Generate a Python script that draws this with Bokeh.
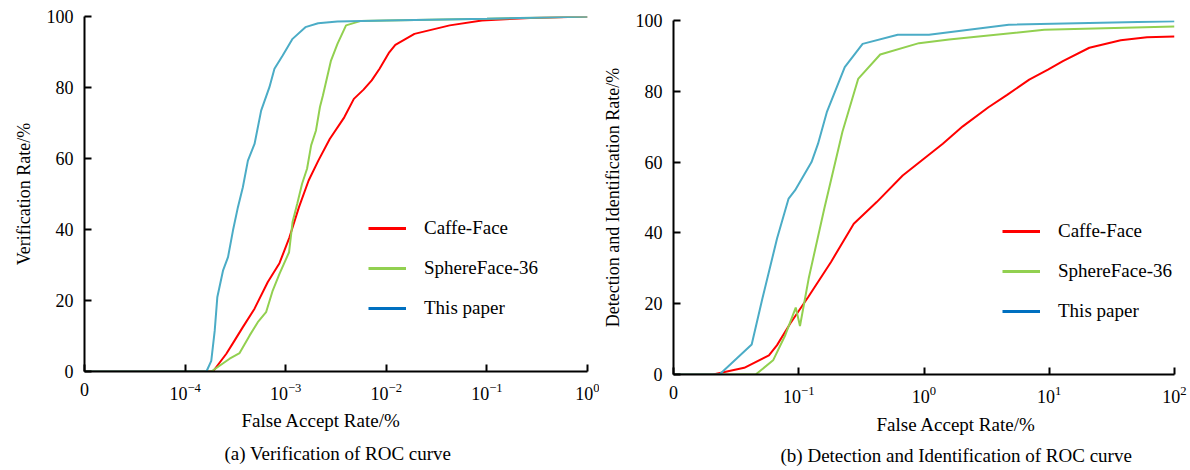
from bokeh.plotting import figure
from bokeh.layouts import row, column
from bokeh.models import Range1d, FixedTicker, Legend, LegendItem, Title
from bokeh.embed import file_html
from bokeh.resources import INLINE

FONT = "Liberation Serif"
RED = "#ff0000"
GREEN = "#92d050"
BLUE = "#4bacc6"
LEGEND_BLUE = "#0070c0"

series_names = ["Caffe-Face", "SphereFace-36", "This paper"]

# ---------- panel (a) Verification ----------
a_ticks = [1e-5, 1e-4, 1e-3, 1e-2, 1e-1, 1.0]
a_caffe_x = [1e-5, 1.89e-4, 2.57e-4, 3.10e-4, 3.75e-4, 4.90e-4, 6.64e-4, 8.67e-4, 1.09e-3,
             1.355e-3, 1.69e-3, 2.11e-3, 2.74e-3, 3.82e-3, 4.76e-3, 5.94e-3, 7.16e-3, 8.57e-3,
             1.07e-2, 1.23e-2, 1.905e-2, 4.27e-2, 8.91e-2, 0.269, 1.0]
a_caffe_y = [0, 0, 5.0, 8.7, 12.5, 17.7, 25.2, 30.5, 37.8, 46.3, 53.8, 59.4, 65.5, 71.6, 76.8,
             79.4, 82.0, 85.3, 89.9, 92.0, 95.1, 97.5, 98.9, 99.6, 100]
a_sphere_x = [1e-5, 1.82e-4, 2.77e-4, 3.48e-4, 4.37e-4, 5.28e-4, 6.38e-4, 7.43e-4, 8.67e-4,
              1.08e-3, 1.17e-3, 1.30e-3, 1.455e-3, 1.63e-3, 1.79e-3, 2.0e-3, 2.19e-3, 2.34e-3,
              2.82e-3, 3.27e-3, 3.98e-3, 5.50e-3, 1e-2, 0.1, 1.0]
a_sphere_y = [0, 0, 3.6, 5.2, 10.1, 13.9, 16.7, 22.8, 27.5, 33.6, 42.1, 47.2, 52.9, 57.1, 63.7,
              67.9, 74.5, 77.7, 87.6, 92.3, 97.5, 98.7, 98.9, 99.4, 100]
a_ours_x = [1e-5, 1.63e-4, 1.82e-4, 1.97e-4, 2.09e-4, 2.38e-4, 2.67e-4, 2.99e-4, 3.35e-4,
            3.75e-4, 4.21e-4, 4.90e-4, 5.70e-4, 6.89e-4, 7.73e-4, 9.33e-4, 1.17e-3, 1.57e-3,
            2.10e-3, 3.27e-3, 1e-2, 0.1, 1.0]
a_ours_y = [0, 0, 3, 11.5, 20.9, 28.4, 32.2, 39.7, 46.3, 51.9, 59.4, 64.1, 73.5, 80.1, 85.3,
            89.0, 93.7, 97.0, 98.1, 98.6, 98.9, 99.4, 100]

# ---------- panel (b) Detection and Identification ----------
b_ticks = [1e-2, 1e-1, 1.0, 10.0, 100.0]
b_caffe_x = [0.01, 2.07e-2, 3.67e-2, 5.78e-2, 6.71e-2, 8.55e-2, 0.119, 0.181, 0.275, 0.419,
             0.676, 1.413, 2.04, 3.27, 4.61, 6.92, 9.77, 12.85, 20.9, 37.2, 60.3, 100]
b_caffe_y = [0, 0, 1.9, 5.4, 8.3, 14.4, 21.9, 31.8, 42.6, 48.7, 56.2, 65.2, 70.1, 75.5, 79.0,
             83.3, 86.1, 88.5, 92.3, 94.4, 95.3, 95.5]
b_sphere_x = [0.01, 4.53e-2, 6.24e-2, 7.80e-2, 9.46e-2, 0.1023, 0.120, 0.160, 0.223, 0.298,
              0.447, 0.912, 1.585, 9.12, 100]
b_sphere_y = [0, 0, 4.0, 11.1, 18.9, 13.7, 27.1, 46.9, 68.5, 83.5, 90.4, 93.6, 94.6, 97.4, 98.3]
b_ours_x = [0.01, 2.33e-2, 4.21e-2, 5.12e-2, 6.71e-2, 8.30e-2, 9.33e-2, 0.1265, 0.1426, 0.1675,
            0.233, 0.3236, 0.617, 1.096, 4.75, 100]
b_ours_y = [0, 0, 8.5, 21.4, 38.4, 49.7, 52.0, 60.0, 65.2, 74.1, 86.8, 93.4, 96.0, 96.0, 98.8, 99.8]

y_ticks = [0, 20, 40, 60, 80, 100]


def panel(width, height, bl, br, bt, bb, ticks, series, ylabel, ylab_standoff,
          xlabel, xlab_offset, xlab_standoff, caption, cap_offset, cap_standoff, leg_loc):
    p = figure(width=width, height=height, x_axis_type="log", title=None,
               x_range=Range1d(ticks[0], ticks[-1]), y_range=Range1d(0, 100),
               min_border_left=bl, min_border_right=br, min_border_top=bt,
               min_border_bottom=bb, output_backend="svg", toolbar_location=None)
    p.grid.visible = False
    p.outline_line_color = None
    for ax in (p.xaxis, p.yaxis):
        ax.axis_line_width = 2
        ax.axis_line_color = "black"
        ax.major_tick_line_width = 2
        ax.major_tick_in = 7
        ax.major_tick_out = 0
        ax.minor_tick_line_color = None
        ax.major_label_text_font = FONT
        ax.major_label_text_font_size = "18px"
        ax.major_label_text_color = "black"
        ax.axis_label_text_font = FONT
        ax.axis_label_text_font_style = "normal"
        ax.axis_label_text_font_size = "18px"
        ax.axis_label_text_color = "black"
    p.xaxis.ticker = FixedTicker(ticks=ticks)
    p.xaxis.major_label_overrides = {ticks[0]: "0"}
    p.xaxis.major_label_standoff = 11
    p.yaxis.ticker = FixedTicker(ticks=y_ticks)
    p.yaxis.major_label_standoff = 11
    p.yaxis.axis_label = ylabel
    p.yaxis.axis_label_standoff = ylab_standoff

    colors = [RED, GREEN, BLUE]
    for (xs, ys), c in zip(series, colors):
        p.line(xs, ys, line_color=c, line_width=2)

    items = []
    for name, c in zip(series_names, [RED, GREEN, LEGEND_BLUE]):
        r = p.line([ticks[0], ticks[-1]], [-1000, -1000], line_color=c, line_width=3)
        items.append(LegendItem(label=name, renderers=[r]))
    leg = Legend(items=items, location=leg_loc, glyph_width=38, glyph_height=20,
                 label_standoff=18, spacing=18, padding=0, margin=0,
                 border_line_color=None, background_fill_alpha=0,
                 label_text_font=FONT, label_text_font_size="19px",
                 label_text_color="black")
    p.add_layout(leg)

    t1 = Title(text=xlabel, align="left", offset=xlab_offset, standoff=xlab_standoff,
               text_font=FONT, text_font_size="19px", text_font_style="normal",
               text_color="black")
    t2 = Title(text=caption, align="left", offset=cap_offset, standoff=cap_standoff,
               text_font=FONT, text_font_size="19px", text_font_style="normal",
               text_color="black")
    p.add_layout(t1, "below")
    p.add_layout(t2, "below")
    return p


pa = panel(599, 470, 84, 12, 16, 99, a_ticks,
           [(a_caffe_x, a_caffe_y), (a_sphere_x, a_sphere_y), (a_ours_x, a_ours_y)],
           "Verification Rate/%", 10, "False Accept Rate/%", 157, 11,
           "(a) Verification of ROC curve", 140, 8, (284, 52))
pb = panel(591, 470, 71, 16, 20, 96, b_ticks,
           [(b_caffe_x, b_caffe_y), (b_sphere_x, b_sphere_y), (b_ours_x, b_ours_y)],
           "Detection and Identification Rate/%", 10, "False Accept Rate/%", 203, 13,
           "(b) Detection and Identification of ROC curve", 107, 3, (329, 52))

layout = row(column(pa), column(pb))
open("out.html", "w").write(file_html(layout, INLINE))
